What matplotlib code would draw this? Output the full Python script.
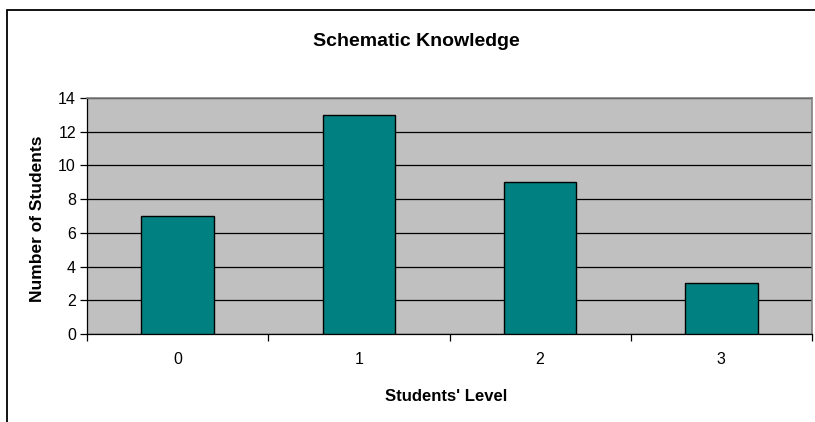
import matplotlib
matplotlib.use("Agg")
import matplotlib.pyplot as plt
from matplotlib.patches import Rectangle

categories = ["0", "1", "2", "3"]
counts = [7, 13, 9, 3]
y_ticks = [0, 2, 4, 6, 8, 10, 12, 14]

plt.rcParams['font.family'] = ['Liberation Sans', 'DejaVu Sans']

W, H = 815, 422
fig = plt.figure(figsize=(W / 100, H / 100), dpi=100)

# chart-area border (runs past the right and bottom edges)
fig.patches.append(Rectangle((7 / W, -0.1), 1.2, 1 - 10 / H + 0.1,
                             transform=fig.transFigure, fill=False,
                             edgecolor='black', linewidth=1.3))

left, right, top, bottom = 87, 812, 98, 334
ax = fig.add_axes([left / W, 1 - bottom / H, (right - left) / W, (bottom - top) / H])
ax.set_facecolor('#C0C0C0')

x = list(range(len(categories)))
ax.bar(x, counts, width=0.4, color='#008080', edgecolor='black', linewidth=1.0, zorder=3)

ax.set_xlim(-0.5, len(categories) - 0.5)
ax.set_ylim(0, 14)
ax.set_yticks(y_ticks)
ax.yaxis.grid(True, color='black', linewidth=0.9, zorder=1)
ax.set_axisbelow(True)

ax.set_xticks(x)
ax.set_xticklabels(categories)
ax.set_xticks([i - 0.5 for i in range(len(categories) + 1)], minor=True)
ax.tick_params(axis='x', which='major', length=0, pad=13, labelsize=11.5)
ax.tick_params(axis='x', which='minor', length=5, width=0.9, direction='out', color='black')
ax.tick_params(axis='y', length=5, width=0.9, direction='out', labelsize=11.5, pad=3)

for side in ['top', 'right']:
    ax.spines[side].set_color('#808080')
    ax.spines[side].set_linewidth(1.2)
ax.spines['left'].set_color('black')
ax.spines['bottom'].set_color('black')
ax.spines['left'].set_linewidth(0.9)
ax.spines['bottom'].set_linewidth(0.9)

fig.text(416 / W, 1 - 46 / H, "Schematic Knowledge", ha='center', va='baseline',
         fontsize=14, fontweight='bold')
fig.text(446 / W, 1 - 401 / H, "Students' Level", ha='center', va='baseline',
         fontsize=12, fontweight='bold')
fig.text(38 / W, 1 - 219 / H, "Number of Students", ha='center', va='center',
         rotation=90, fontsize=12.5, fontweight='bold')

fig.savefig("out.png", dpi=100)
